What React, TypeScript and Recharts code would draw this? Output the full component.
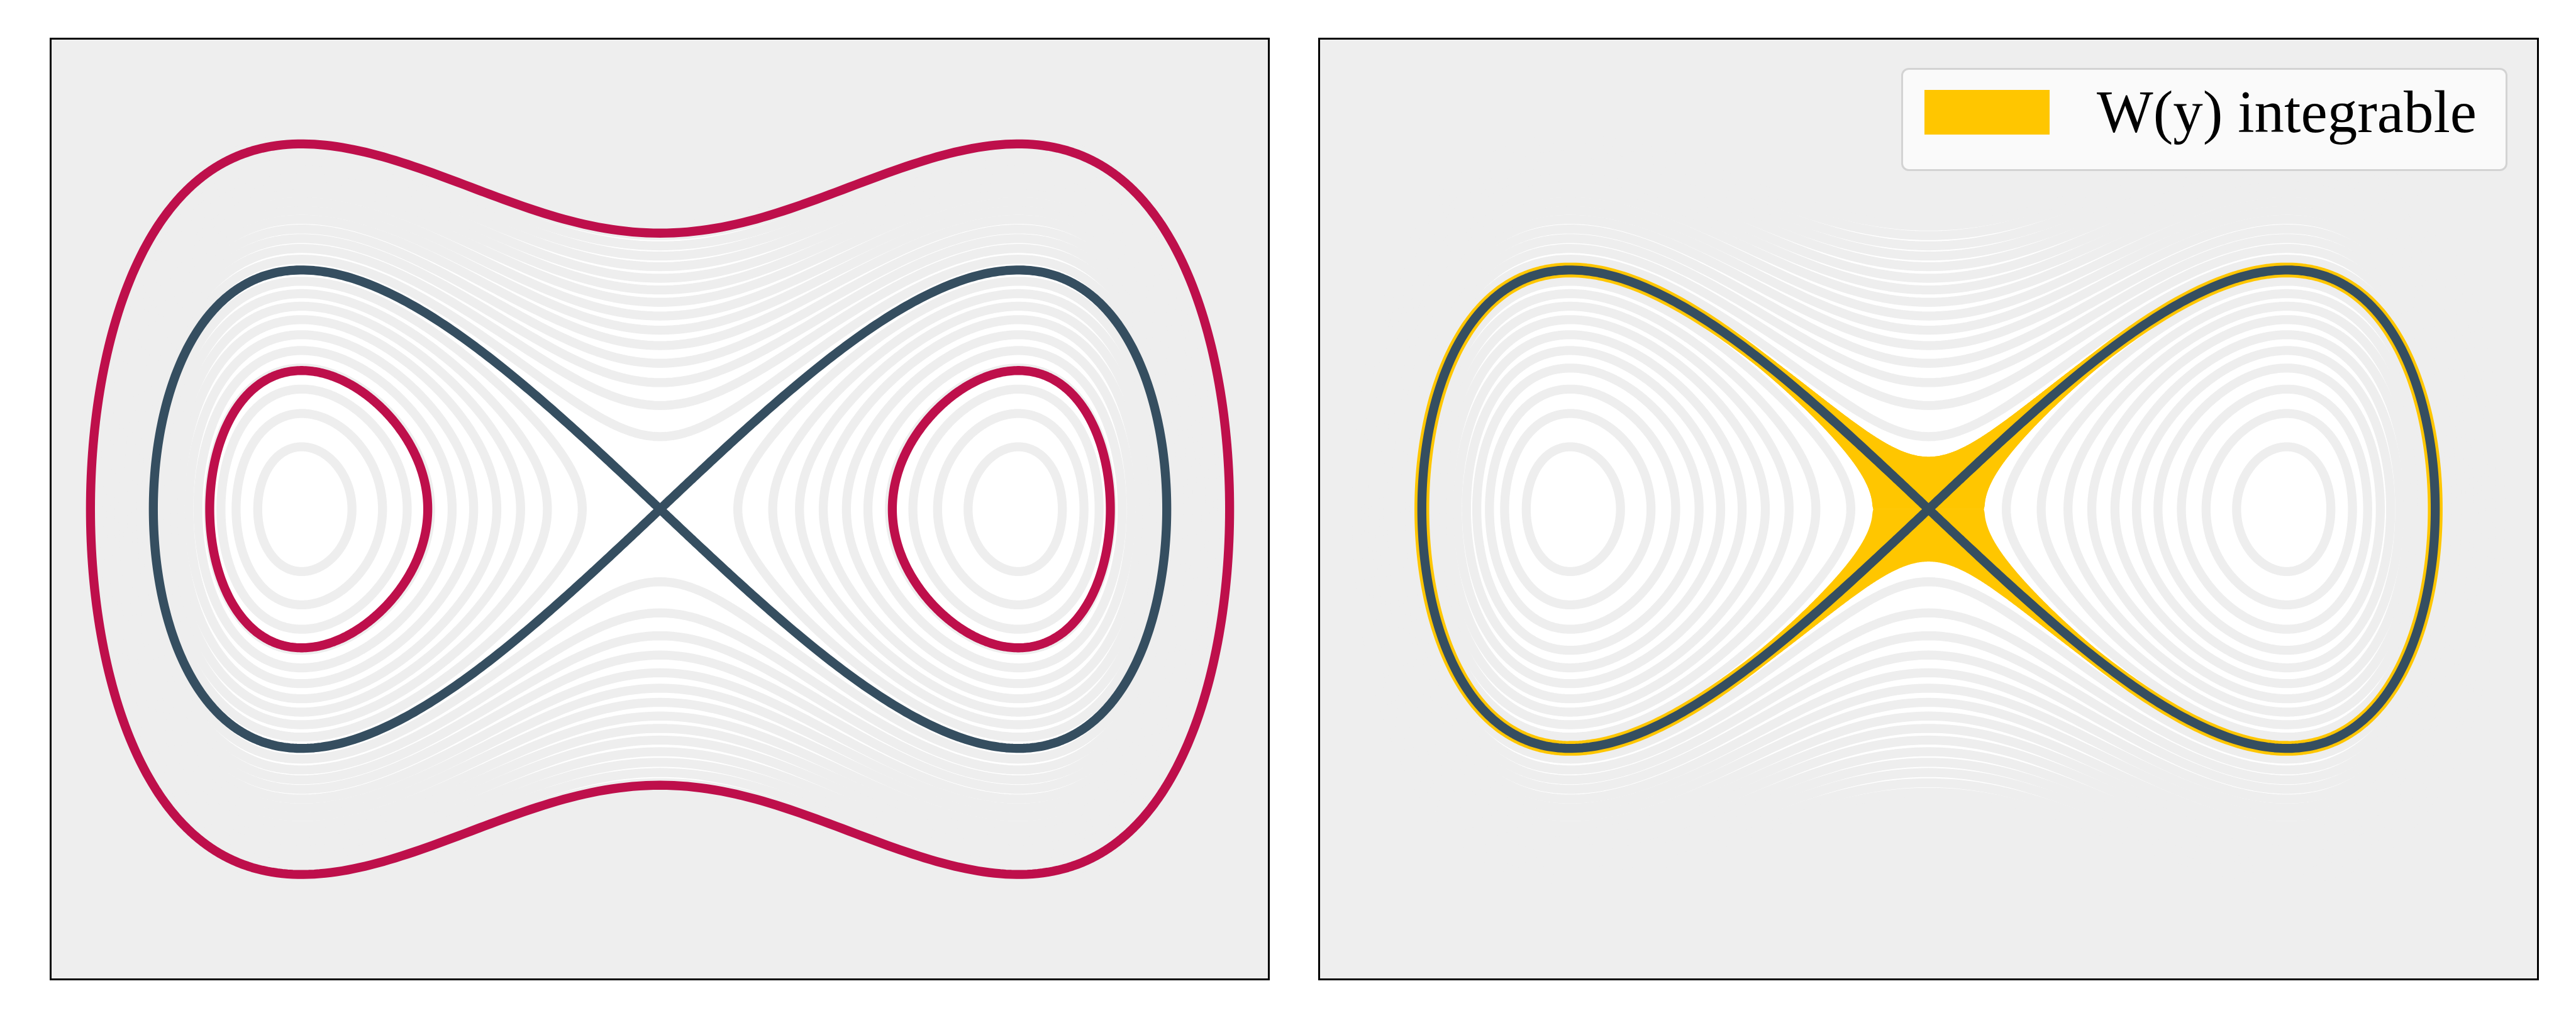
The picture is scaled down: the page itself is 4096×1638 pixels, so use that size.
import React from "react";
import { ComposedChart, Line, Area, XAxis, YAxis } from "recharts";

// Phase portrait of H = p^2/2 - x^2/2 + x^4/4, energy levels
const grayLevels = [
  -0.233, -0.21, -0.187, -0.163, -0.14, -0.117, -0.093, -0.07, -0.047, -0.023,
  0, 0.023, 0.047, 0.07, 0.093, 0.117, 0.14, 0.163, 0.187, 0.21, 0.233, 0.257,
  0.28, 0.303, 0.327, 0.35,
];
const whiteTopLevel = 0.35;
const redLevels = [-0.166, 0.333];
const separatrixLevel = 0;
const bandHalfWidth = 0.012;
const xDomain: [number, number] = [-1.7, 1.7];
const yDomain: [number, number] = [-1.39, 1.39];
const legendLabel = "W(y) integrable";

const GRAY = "#eeeeee";
const RED = "#be0f4b";
const DARK = "#354e60";
const YELLOW = "#ffc600";

const W = 1937;
const H = 1495.5;
const TOP = 61.5;
const LW = 14.3;

type Pt = { x: number; y: number };

const V = (x: number) => -(x * x) / 2 + (x * x * x * x) / 4;
const mom = (E: number, x: number) => Math.sqrt(Math.max(0, 2 * (E - V(x))));

// closed loop inside one well (E <= 0), side = -1 left, +1 right
function wellLoop(E: number, side: number, N = 420): Pt[] {
  const s = Math.sqrt(1 + 4 * E);
  const xin = Math.sqrt(Math.max(0, 1 - s));
  const xout = Math.sqrt(1 + s);
  const mid = (xin + xout) / 2;
  const half = (xout - xin) / 2;
  const pts: Pt[] = [];
  for (let i = 0; i <= N; i++) {
    const t = (2 * Math.PI * i) / N;
    const x = mid + half * Math.cos(t);
    const p = mom(E, x) * (t <= Math.PI ? 1 : -1);
    pts.push({ x: side * x, y: p });
  }
  return pts;
}

// closed loop around both wells (E > 0)
function outerLoop(E: number, N = 520): Pt[] {
  const xout = Math.sqrt(1 + Math.sqrt(1 + 4 * E));
  const pts: Pt[] = [];
  for (let i = 0; i <= N; i++) {
    const t = (2 * Math.PI * i) / N;
    const x = xout * Math.cos(t);
    pts.push({ x, y: mom(E, x) * (t <= Math.PI ? 1 : -1) });
  }
  return pts;
}

function levelCurves(E: number): Pt[][] {
  if (E > 0) return [outerLoop(E)];
  return [wellLoop(E, -1), wellLoop(E, 1)];
}

// filled region H <= E
function fillBelow(E: number, N = 900) {
  const xo = Math.sqrt(1 + Math.sqrt(1 + 4 * E));
  const out: { x: number; r: [number, number] }[] = [];
  for (let i = 0; i <= N; i++) {
    const x = -xo * Math.cos((Math.PI * i) / N);
    const h = mom(E, x);
    out.push({ x, r: [-h, h] });
  }
  return out;
}

// band |H| < d, upper (sign 1) or lower (sign -1) half
function band(d: number, sign: number, N = 2400) {
  const xo = Math.sqrt(1 + Math.sqrt(1 + 4 * d));
  const out: { x: number; r: [number, number] }[] = [];
  for (let i = 0; i <= N; i++) {
    const x = -xo * Math.cos((Math.PI * i) / N);
    const hi = mom(d, x);
    const lo = mom(-d, x);
    out.push({ x, r: sign > 0 ? [lo, hi] : [-hi, -lo] });
  }
  return out;
}

const whiteData = fillBelow(whiteTopLevel);
const grayCurves = grayLevels.flatMap((E) => levelCurves(E));
const redCurves = redLevels.flatMap((E) => levelCurves(E));
const sepCurves = levelCurves(separatrixLevel);
const bandUp = band(bandHalfWidth, 1);
const bandDown = band(bandHalfWidth, -1);

function curve(pts: Pt[], key: string, color: string, width: number) {
  return (
    <Line
      key={key}
      data={pts}
      dataKey="y"
      type="linear"
      stroke={color}
      strokeWidth={width}
      strokeLinejoin="round"
      strokeLinecap="round"
      dot={false}
      activeDot={false}
      legendType="none"
      isAnimationActive={false}
    />
  );
}

function Panel({ left, right }: { left: number; right: boolean }) {
  return (
    <div style={{ position: "absolute", left, top: TOP, width: W, height: H, background: GRAY }}>
      <ComposedChart width={W} height={H} margin={{ top: 0, right: 0, bottom: 0, left: 0 }}>
        <XAxis type="number" dataKey="x" domain={xDomain} hide allowDataOverflow />
        <YAxis type="number" domain={yDomain} hide allowDataOverflow />
        <Area
          data={whiteData}
          dataKey="r"
          type="linear"
          stroke="none"
          fill="#ffffff"
          fillOpacity={1}
          dot={false}
          activeDot={false}
          isAnimationActive={false}
        />
        {right && (
          <Area
            data={bandUp}
            dataKey="r"
            type="linear"
            stroke="none"
            fill={YELLOW}
            fillOpacity={1}
            dot={false}
            activeDot={false}
            isAnimationActive={false}
          />
        )}
        {right && (
          <Area
            data={bandDown}
            dataKey="r"
            type="linear"
            stroke="none"
            fill={YELLOW}
            fillOpacity={1}
            dot={false}
            activeDot={false}
            isAnimationActive={false}
          />
        )}
        {grayCurves.map((c, i) => curve(c, "g" + i, GRAY, LW))}
        {right && sepCurves.map((c, i) => curve(c, "y" + i, YELLOW, 23.5))}
        {right && (
          <Area
            data={bandUp}
            dataKey="r"
            type="linear"
            stroke="none"
            fill={YELLOW}
            fillOpacity={1}
            dot={false}
            activeDot={false}
            isAnimationActive={false}
          />
        )}
        {!right && redCurves.map((c, i) => curve(c, "r" + i, RED, LW))}
        {sepCurves.map((c, i) => curve(c, "s" + i, DARK, LW))}
      </ComposedChart>
      <div
        style={{
          position: "absolute",
          left: -1.75,
          top: -1.75,
          width: W + 3.5,
          height: H + 3.5,
          border: "3.5px solid #000",
          boxSizing: "border-box",
          pointerEvents: "none",
        }}
      />
    </div>
  );
}

export default function App() {
  return (
    <div
      style={{
        position: "absolute",
        left: 0,
        top: 0,
        width: 4096,
        height: 1638,
        background: "#ffffff",
        overflow: "hidden",
      }}
    >
      <Panel left={80.5} right={false} />
      <Panel left={2098} right={true} />
      <div
        style={{
          position: "absolute",
          left: 3023,
          top: 108,
          width: 964,
          height: 164,
          background: "#fafafa",
          border: "3px solid #d3d3d3",
          borderRadius: 12,
          boxSizing: "border-box",
        }}
      />
      <div style={{ position: "absolute", left: 3060, top: 143, width: 199, height: 71, background: YELLOW }} />
      <div
        style={{
          position: "absolute",
          left: 3334,
          top: 131,
          fontFamily: "'Liberation Serif', 'Times New Roman', serif",
          fontSize: 95,
          lineHeight: 1,
          color: "#000",
          whiteSpace: "nowrap",
        }}
      >
        {legendLabel}
      </div>
    </div>
  );
}
